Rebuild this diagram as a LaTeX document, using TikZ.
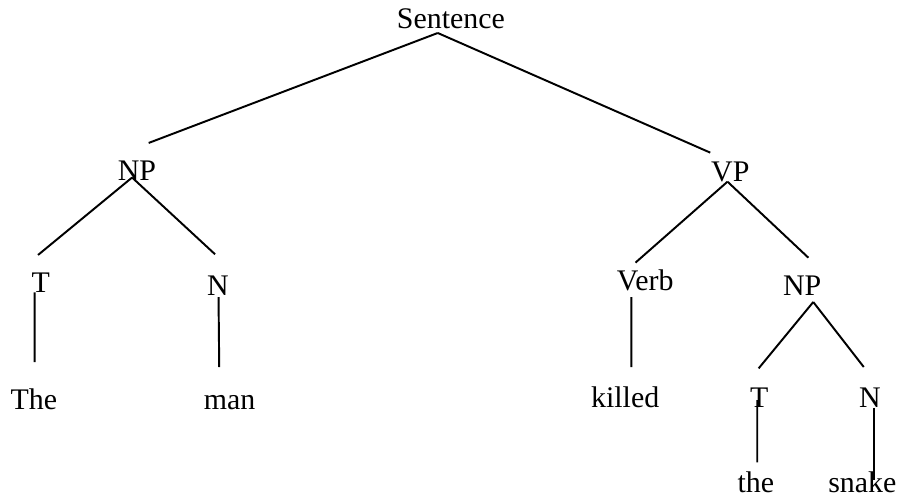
\documentclass[tikz,border=0pt]{standalone}
\usepackage{fontspec}
\setmainfont{Liberation Serif}
\usepackage{tikz}

\begin{document}
\begin{tikzpicture}[scale=1,
	word/.style = {anchor=base, inner sep=0pt, outer sep=0pt, font=\fontsize{12.3pt}{14pt}\selectfont},
	branch/.style = {line width = 0.8pt}]

	    \useasboundingbox (0,0) rectangle (13,7.187);

	    \node[word] (sent) at (6.52, 6.77) {Sentence};

	    \node[word] (np1) at (1.98, 4.58) {NP};
	    \node[word] (vp) at (10.56, 4.56) {VP};

		\draw [branch] ([shift={(-0.19,-0.06)}]sent.base) -- ([shift={(0.17,0.54)}]np1.base);
		\draw [branch] ([shift={(-0.19,-0.06)}]sent.base) -- ([shift={(-0.29,0.42)}]vp.base);

		%%%%%%%%%%%%%%%%%%%%%%%%%%%%%%%%%%%%%%%%%%%%%%%%%%%%%%%%%%%%%%%%%%%%%

	    \node[word] (t1) at (0.59, 2.96) {T};
	    \node[word] (n1) at (3.15, 2.92) {N};
	    \node[word] (the1) at (0.49, 1.27) {The};
	    \node[word] (man) at (3.32, 1.26) {man};

		\draw [branch] ([shift={(-0.07,0.04)}]np1.base) -- ([shift={(-0.04,0.54)}]t1.base);
		\draw [branch] ([shift={(-0.07,0.04)}]np1.base) -- ([shift={(-0.04,0.59)}]n1.base);
		\draw [branch] ([shift={(-0.09,0.00)}]t1.base) -- ([shift={(0.01,0.68)}]the1.base);
		\draw [branch] ([shift={(0.01,-0.03)}]n1.base) -- ([shift={(-0.15,0.62)}]man.base);

		%%%%%%%%%%%%%%%%%%%%%%%%%%%%%%%%%%%%%%%%%%%%%%%%%%%%%%%%%%%%%%%%%%%%%

	    \node[word] (verb) at (9.33, 2.99) {Verb};
	    \node[word] (np2) at (11.60, 2.92) {NP};
	    \node[word] (killed) at (9.04, 1.30) {killed};

		\draw [branch] ([shift={(-0.04,0.00)}]vp.base) -- ([shift={(-0.14,0.40)}]verb.base);
		\draw [branch] ([shift={(-0.04,0.00)}]vp.base) -- ([shift={(0.09,0.54)}]np2.base);
		\draw [branch] ([shift={(-0.20,-0.10)}]verb.base) -- ([shift={(0.09,0.58)}]killed.base);

		%%%%%%%%%%%%%%%%%%%%%%%%%%%%%%%%%%%%%%%%%%%%%%%%%%%%%%%%%%%%%%%%%%%%%

	    \node[word] (t2) at (10.98, 1.30) {T};
	    \node[word] (n2) at (12.58, 1.30) {N};
	    \node[word] (the2) at (10.93, 0.07) {the};
	    \node[word] (snake) at (12.47, 0.07) {snake};

		\draw [branch] ([shift={(0.16,-0.10)}]np2.base) -- ([shift={(-0.01,0.56)}]t2.base);
		\draw [branch] ([shift={(0.16,-0.10)}]np2.base) -- ([shift={(-0.09,0.58)}]n2.base);
		\draw [branch] ([shift={(-0.03,0.10)}]t2.base) -- ([shift={(0.02,0.43)}]the2.base);
		\draw [branch] ([shift={(0.06,-0.01)}]n2.base) -- ([shift={(0.17,0.17)}]snake.base);

\end{tikzpicture}
\end{document}
